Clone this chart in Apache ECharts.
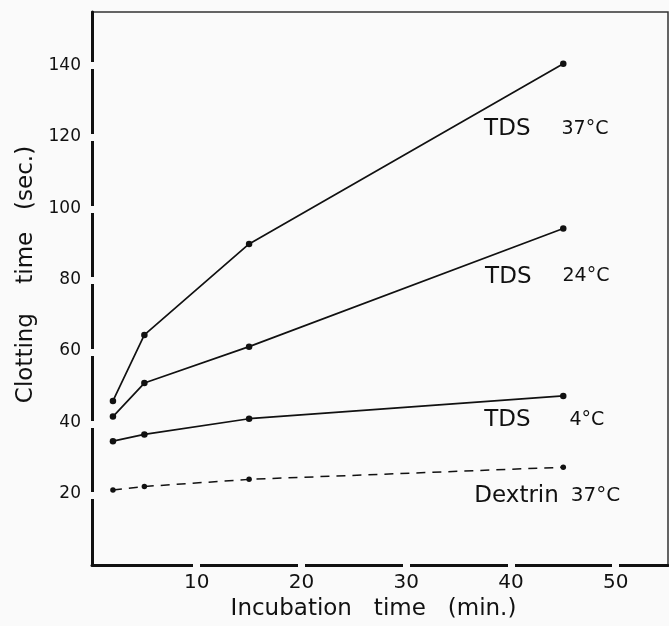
<!DOCTYPE html>
<html>
<head>
<meta charset="utf-8">
<script src="https://cdn.jsdelivr.net/npm/echarts@6/dist/echarts.min.js"></script>
<style>
  html, body { margin: 0; padding: 0; background: #fafafa; }
  #chart { width: 669px; height: 626px; }
</style>
</head>
<body>
<div id="chart"></div>
<script>
// data
const incubation = [2, 5, 15, 45];
const tds37 = [46, 64.5, 90, 140.5];
const tds24 = [41.6, 51, 61.2, 94.3];
const tds4 = [34.7, 36.6, 41, 47.4];
const dextrin37 = [21, 22, 24, 27.4];
const xTicks = [10, 20, 30, 40, 50];
const yTicks = [20, 40, 60, 80, 100, 120, 140];

const FONT = "DejaVu Sans";
const BG = "#fafafa";

// pair x/y, put the curve label on the last point
function pts(ys, label) {
  return incubation.map((x, i) => {
    if (i === ys.length - 1) return { value: [x, ys[i]], label: label };
    return [x, ys[i]];
  });
}

function tdsLabel(temp, gap, dx, dy) {
  return {
    show: true,
    position: "inside",
    offset: [dx, dy],
    formatter: "{a|TDS}{s| }{b|" + temp + "}",
    rich: {
      a: { fontFamily: FONT, fontSize: 23, color: "#111" },
      s: { width: gap },
      b: { fontFamily: FONT, fontSize: 19, color: "#111" }
    }
  };
}

const lineBase = {
  type: "line",
  symbol: "circle",
  symbolSize: 6.5,
  itemStyle: { color: "#111" },
  lineStyle: { color: "#111", width: 1.7 },
  animation: false
};

const chart = echarts.init(document.getElementById("chart"));

const option = {
  backgroundColor: BG,
  grid: [
    { left: 92, right: 1, top: 12, bottom: 59, show: true, borderColor: "#333", borderWidth: 1.5 },
    // same box, only used for the white breaks on the axes
    { left: 92, right: 1, top: 12, bottom: 59 }
  ],
  xAxis: [
    {
      type: "value", gridIndex: 0, min: 0, max: 55, position: "bottom",
      name: "Incubation   time   (min.)",
      nameLocation: "middle", nameGap: 33,
      nameTextStyle: { fontFamily: FONT, fontSize: 23, color: "#111", padding: [0, 13, 0, 0] },
      axisLine: { lineStyle: { color: "#111", width: 3 } },
      axisTick: { show: false },
      axisLabel: { customValues: xTicks, fontFamily: FONT, fontSize: 20, color: "#111", margin: 8 },
      splitLine: { show: false }
    },
    {
      type: "value", gridIndex: 1, min: 0, max: 55, position: "bottom", offset: -3, z: 5,
      axisLine: { show: false },
      axisLabel: { show: false },
      axisTick: { show: true, customValues: xTicks, length: 6, lineStyle: { color: BG, width: 7 } },
      splitLine: { show: false }
    }
  ],
  yAxis: [
    {
      type: "value", gridIndex: 0, min: 0, max: 155, position: "left",
      name: "Clotting    time   (sec.)",
      nameLocation: "middle", nameGap: 52,
      nameTextStyle: { fontFamily: FONT, fontSize: 23, color: "#111", padding: [0, 0, 0, 28] },
      axisLine: { lineStyle: { color: "#111", width: 3 } },
      axisTick: { show: false },
      axisLabel: { customValues: yTicks, fontFamily: FONT, fontSize: 17, color: "#111", margin: 11 },
      splitLine: { show: false }
    },
    {
      type: "value", gridIndex: 1, min: 0, max: 155, position: "left", offset: -3, z: 5,
      axisLine: { show: false },
      axisLabel: { show: false },
      axisTick: { show: true, customValues: yTicks, length: 6, lineStyle: { color: BG, width: 7 } },
      splitLine: { show: false }
    }
  ],
  series: [
    Object.assign({}, lineBase, {
      name: "TDS 37°C",
      data: pts(tds37, tdsLabel("37°C", 31, -17, 65))
    }),
    Object.assign({}, lineBase, {
      name: "TDS 24°C",
      data: pts(tds24, tdsLabel("24°C", 31, -16, 48))
    }),
    Object.assign({}, lineBase, {
      name: "TDS 4°C",
      data: pts(tds4, tdsLabel("4°C", 39, -19, 24))
    }),
    Object.assign({}, lineBase, {
      name: "Dextrin 37°C",
      symbolSize: 5.5,
      lineStyle: { color: "#111", width: 1.5, type: [9, 7] },
      data: pts(dextrin37, {
        show: true,
        position: "inside",
        offset: [-16, 29],
        formatter: "{a|Dextrin}{s| }{b|37°C}",
        rich: {
          a: { fontFamily: FONT, fontSize: 23, color: "#111" },
          s: { width: 12 },
          b: { fontFamily: FONT, fontSize: 20, color: "#111" }
        }
      })
    })
  ]
};

chart.setOption(option);
</script>
</body>
</html>
